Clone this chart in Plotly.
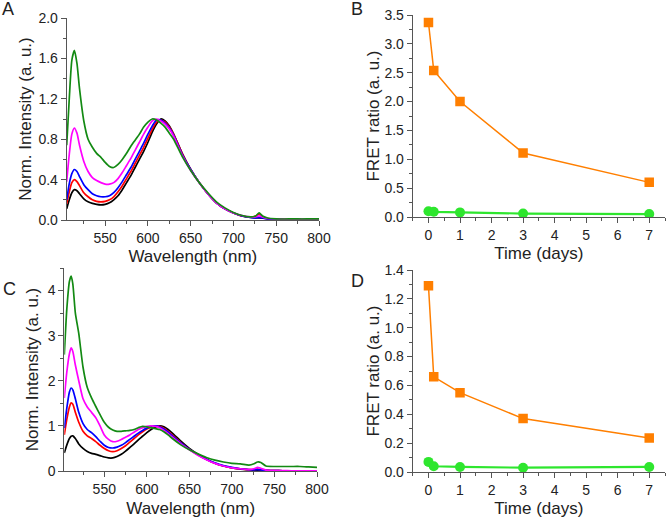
import plotly.graph_objects as go

# ---- panel A: emission spectra (normalised) ----
WL_A = [505, 508, 511, 514, 517, 520, 525, 530, 535, 540, 545, 550, 555, 560, 565,
        570, 575, 580, 585, 590, 595, 600, 605, 610, 615, 620, 625, 630, 640, 650,
        660, 670, 680, 690, 700, 710, 720, 726, 730, 734, 740, 750, 760, 770, 780,
        790, 800]
A_BLACK = [0.11, 0.2, 0.27, 0.3, 0.29, 0.26, 0.21, 0.18, 0.165, 0.155, 0.15, 0.155, 0.17, 0.2, 0.24,
           0.3, 0.37, 0.44, 0.52, 0.6, 0.68, 0.77, 0.87, 0.95, 1.0, 0.98, 0.93, 0.85, 0.66, 0.5,
           0.37, 0.26, 0.17, 0.11, 0.07, 0.04, 0.025, 0.02, 0.02, 0.018, 0.012, 0.008, 0.005, 0.004, 0.003,
           0.002, 0.002]
A_RED = [0.16, 0.28, 0.37, 0.4, 0.38, 0.34, 0.27, 0.23, 0.2, 0.185, 0.18, 0.185, 0.2, 0.23, 0.28,
         0.34, 0.41, 0.48, 0.56, 0.64, 0.72, 0.81, 0.9, 0.97, 0.99, 0.97, 0.92, 0.85, 0.66, 0.5,
         0.37, 0.26, 0.17, 0.11, 0.07, 0.04, 0.03, 0.04, 0.06, 0.035, 0.015, 0.01, 0.006, 0.005, 0.004,
         0.003, 0.002]
A_BLUE = [0.2, 0.36, 0.46, 0.5, 0.48, 0.43, 0.35, 0.3, 0.26, 0.24, 0.23, 0.23, 0.24, 0.27, 0.32,
          0.38, 0.45, 0.52, 0.6, 0.68, 0.76, 0.85, 0.93, 0.99, 0.99, 0.96, 0.91, 0.84, 0.65, 0.5,
          0.37, 0.26, 0.17, 0.11, 0.07, 0.04, 0.025, 0.02, 0.025, 0.02, 0.012, 0.008, 0.005, 0.004, 0.003,
          0.003, 0.002]
A_MAGENTA = [0.38, 0.65, 0.85, 0.91, 0.86, 0.74, 0.58, 0.48, 0.42, 0.39, 0.37, 0.355, 0.355, 0.37, 0.41,
             0.47, 0.54, 0.61, 0.69, 0.77, 0.85, 0.92, 0.98, 1.0, 0.98, 0.95, 0.9, 0.83, 0.64, 0.49,
             0.37, 0.26, 0.17, 0.11, 0.07, 0.045, 0.03, 0.03, 0.04, 0.03, 0.015, 0.01, 0.008, 0.006, 0.005,
             0.004, 0.004]
A_GREEN = [0.74, 1.2, 1.58, 1.68, 1.55, 1.3, 0.98, 0.8, 0.72, 0.66, 0.62, 0.57, 0.53, 0.52, 0.55,
           0.6, 0.66, 0.73, 0.79, 0.85, 0.92, 0.97, 1.0, 0.99, 0.96, 0.92, 0.86, 0.8, 0.63, 0.49,
           0.37, 0.27, 0.18, 0.12, 0.075, 0.045, 0.03, 0.04, 0.07, 0.04, 0.02, 0.012, 0.01, 0.012, 0.01,
           0.012, 0.012]

# ---- panel C: emission spectra (normalised) ----
WL_C = [503, 506, 509, 511, 513, 516, 520, 525, 530, 535, 540, 545, 550, 555, 560,
        565, 570, 575, 580, 585, 590, 595, 600, 605, 610, 615, 620, 625, 630, 640,
        650, 660, 670, 680, 690, 700, 710, 720, 726, 730, 734, 740, 750, 760, 770,
        780, 790, 800]
C_BLACK = [0.4, 0.58, 0.72, 0.77, 0.78, 0.72, 0.6, 0.5, 0.43, 0.39, 0.37, 0.34, 0.31, 0.29, 0.29,
           0.32, 0.37, 0.44, 0.52, 0.6, 0.69, 0.77, 0.85, 0.92, 0.97, 1.0, 0.98, 0.92, 0.84, 0.66,
           0.5, 0.37, 0.26, 0.17, 0.11, 0.07, 0.04, 0.025, 0.02, 0.02, 0.018, 0.012, 0.008, 0.005, 0.004,
           0.003, 0.002, 0.002]
C_RED = [0.8, 1.15, 1.42, 1.51, 1.48, 1.3, 1.08, 0.88, 0.78, 0.72, 0.65, 0.57, 0.5, 0.45, 0.43,
         0.45, 0.5, 0.56, 0.64, 0.72, 0.8, 0.87, 0.93, 0.97, 1.0, 0.99, 0.95, 0.88, 0.8, 0.63,
         0.48, 0.36, 0.26, 0.17, 0.11, 0.07, 0.045, 0.03, 0.03, 0.04, 0.03, 0.015, 0.01, 0.006, 0.005,
         0.004, 0.003, 0.002]
C_BLUE = [0.95, 1.4, 1.75, 1.84, 1.8, 1.6, 1.3, 1.05, 0.92, 0.85, 0.76, 0.66, 0.57, 0.52, 0.51,
          0.53, 0.57, 0.63, 0.7, 0.77, 0.84, 0.9, 0.95, 0.99, 1.0, 0.98, 0.93, 0.86, 0.78, 0.62,
          0.48, 0.36, 0.26, 0.18, 0.12, 0.08, 0.05, 0.03, 0.025, 0.03, 0.025, 0.015, 0.01, 0.006, 0.005,
          0.004, 0.003, 0.003]
C_MAGENTA = [1.62, 2.2, 2.6, 2.73, 2.65, 2.35, 2.0, 1.6, 1.42, 1.3, 1.18, 1.0, 0.8, 0.7, 0.65,
             0.66, 0.7, 0.75, 0.8, 0.86, 0.92, 0.96, 0.99, 1.0, 0.99, 0.96, 0.9, 0.83, 0.75, 0.6,
             0.47, 0.35, 0.25, 0.17, 0.11, 0.07, 0.05, 0.03, 0.05, 0.08, 0.06, 0.02, 0.01, 0.008, 0.006,
             0.005, 0.004, 0.004]
C_GREEN = [2.58, 3.6, 4.2, 4.32, 4.15, 3.5, 3.05, 2.3, 1.85, 1.62, 1.43, 1.25, 1.08, 0.97, 0.91,
           0.88, 0.88, 0.89, 0.9, 0.92, 0.96, 0.99, 0.98, 0.96, 0.94, 0.92, 0.87, 0.8, 0.72, 0.58,
           0.47, 0.38, 0.3, 0.24, 0.2, 0.17, 0.16, 0.13, 0.16, 0.2, 0.19, 0.11, 0.1, 0.1, 0.1,
           0.1, 0.09, 0.08]

# ---- panels B and D: FRET ratio vs time ----
DAYS = [0, 0.167, 1, 3, 7]
B_ORANGE = [3.37, 2.54, 2.0, 1.11, 0.6]
B_GREEN = [0.1, 0.09, 0.08, 0.06, 0.05]
D_ORANGE = [1.29, 0.66, 0.55, 0.37, 0.235]
D_GREEN = [0.07, 0.04, 0.035, 0.03, 0.035]

SPEC_COLORS = ["#000000", "#ff0000", "#0000ff", "#ff00ff", "#138a13"]
ORANGE = "#ff7f00"
LIME = "#2ee62e"
FONT = "Liberation Sans, Arial, sans-serif"
AXC = "#555555"

W, H = 666, 518


def dom_x(a, b):
    return [a / W, b / W]


def dom_y(top, bottom):
    return [1 - bottom / H, 1 - top / H]


fig = go.Figure()

for ys, col in zip([A_BLACK, A_RED, A_BLUE, A_MAGENTA, A_GREEN], SPEC_COLORS):
    fig.add_trace(go.Scatter(x=WL_A, y=ys, mode="lines", xaxis="x", yaxis="y",
                             line=dict(color=col, width=1.7, shape="spline", smoothing=0.6)))
for ys, col in zip([C_BLACK, C_RED, C_BLUE, C_MAGENTA, C_GREEN], SPEC_COLORS):
    fig.add_trace(go.Scatter(x=WL_C, y=ys, mode="lines", xaxis="x3", yaxis="y3",
                             line=dict(color=col, width=1.7, shape="spline", smoothing=0.6)))

for ax, ys_o, ys_g in [("2", B_ORANGE, B_GREEN), ("4", D_ORANGE, D_GREEN)]:
    fig.add_trace(go.Scatter(x=DAYS, y=ys_g, mode="lines+markers", xaxis="x" + ax, yaxis="y" + ax,
                             line=dict(color=LIME, width=2.2),
                             marker=dict(symbol="circle", size=10, color=LIME)))
    fig.add_trace(go.Scatter(x=DAYS, y=ys_o, mode="lines+markers", xaxis="x" + ax, yaxis="y" + ax,
                             line=dict(color=ORANGE, width=1.5),
                             marker=dict(symbol="square", size=9.5, color=ORANGE)))


def axis(domain, rng, dtick, minor, title, standoff, fmt=None, anchor=None, tick0=None):
    d = dict(domain=domain, range=rng, dtick=dtick, showline=True, linecolor=AXC, linewidth=1,
             ticks="outside", ticklen=5, tickcolor=AXC, showgrid=False, zeroline=False,
             automargin=False,
             tickfont=dict(family=FONT, size=14, color="#222222"),
             minor=dict(dtick=minor, ticks="outside", ticklen=3, tickcolor=AXC, showgrid=False),
             title=dict(text=title, standoff=standoff, font=dict(family=FONT, size=17, color="#222222")))
    if fmt:
        d["tickformat"] = fmt
    if anchor:
        d["anchor"] = anchor
    if tick0 is not None:
        d["tick0"] = tick0
    return d


fig.update_layout(
    width=W, height=518,
    margin=dict(l=0, r=0, t=0, b=0),
    paper_bgcolor="white", plot_bgcolor="white",
    showlegend=False,
    xaxis=axis(dom_x(66.7, 319), [505, 800], 50, 25, "Wavelength (nm)", 5, anchor="y", tick0=500),
    yaxis=axis(dom_y(18, 220), [0, 2.0], 0.4, 0.2, "Norm. Intensity (a. u.)", 2, fmt=".1f", anchor="x"),
    xaxis2=axis(dom_x(412.7, 665), [-0.5, 7.5], 1, 0.5, "Time (days)", 5, anchor="y2", tick0=0),
    yaxis2=axis(dom_y(15, 217), [0, 3.5], 0.5, 0.25, "FRET ratio (a. u.)", 0, fmt=".1f", anchor="x2"),
    xaxis3=axis(dom_x(64.3, 317), [503, 800], 50, 25, "Wavelength (nm)", 6, anchor="y3", tick0=500),
    yaxis3=axis(dom_y(268, 471), [0, 4.5], 1, 0.5, "Norm. Intensity (a. u.)", 4, anchor="x3"),
    xaxis4=axis(dom_x(412.7, 665), [-0.5, 7.5], 1, 0.5, "Time (days)", 6, anchor="y4", tick0=0),
    yaxis4=axis(dom_y(270, 472), [0, 1.4], 0.2, 0.1, "FRET ratio (a. u.)", 0, fmt=".1f", anchor="x4"),
)

for letter, px, py in [("A", 8, 9), ("B", 357, 9), ("C", 9, 289), ("D", 357, 281)]:
    fig.add_annotation(text=letter, x=px / W, y=1 - py / H, xref="paper", yref="paper",
                       xanchor="center", yanchor="middle",
                       showarrow=False, font=dict(family=FONT, size=18, color="#222222"))

# drop the browser's default body margin so the figure starts at the page corner
fig.write_html("out.html", config={"displayModeBar": False},
               post_script="document.body.style.margin='0';")
